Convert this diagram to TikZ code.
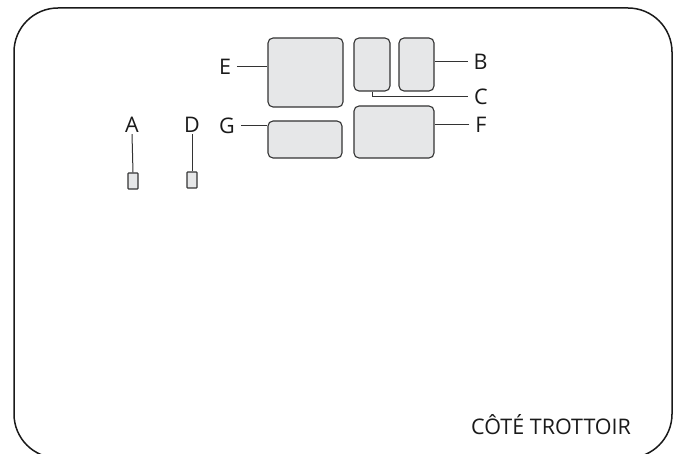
\documentclass[tikz,border=0pt]{standalone}
\usepackage{fontspec}
\setmainfont{Open Sans}
\definecolor{boxfill}{HTML}{E6E7E8}
\definecolor{boxdraw}{HTML}{333333}
\definecolor{inkc}{HTML}{1A1A1A}
\begin{document}
\begin{tikzpicture}[x=1pt,y=-1pt,
  box/.style={draw=boxdraw,fill=boxfill,line width=1.1pt,rounded corners=5pt,inner sep=0pt},
  tiny/.style={box,rounded corners=0.6pt,minimum width=10pt,minimum height=16pt},
  lbl/.style={inner sep=0pt,outer xsep=6pt,outer ysep=2pt,font=\fontsize{21.5}{21.5}\selectfont,text=inkc},
  conn/.style={draw=boxdraw,line width=1pt}]
\useasboundingbox (0,0) rectangle (676,454);
\begin{scope}
\clip (0,0) rectangle (676,454);
\draw[line width=1.5pt,draw=inkc,rounded corners=44pt] (14,8) rectangle (672,458);
\end{scope}
% boxes
\node[box,minimum width=75pt,minimum height=69pt] (E) at (305.5,72.5) {};
\node[box,minimum width=36pt,minimum height=53pt] (C) at (372,64.5) {};
\node[box,minimum width=35pt,minimum height=53pt] (B) at (416.5,64.5) {};
\node[box,minimum width=74pt,minimum height=37pt] (G) at (305,139.5) {};
\node[box,minimum width=80pt,minimum height=52pt] (F) at (394,132) {};
\node[tiny] (a) at (133,181) {};
\node[tiny] (d) at (192,180) {};
% labels
\node[lbl] (lE) at (225,67) {E};
\node[lbl] (lB) at (480.5,62) {B};
\node[lbl] (lC) at (481,97) {C};
\node[lbl] (lF) at (481,124.5) {F};
\node[lbl] (lG) at (227,126) {G};
\node[lbl] (lA) at (132,124.5) {A};
\node[lbl] (lD) at (192,124.5) {D};
\node[lbl,anchor=base east,outer sep=0pt] (title) at (631,434) {CÔTÉ TROTTOIR};
% connectors
\draw[conn] (lE.east) -- (lE.east -| E.west);
\draw[conn] (lG.east) -- (lG.east -| G.west);
\draw[conn] (lB.west) -- (lB.west -| B.east);
\draw[conn] (lF.west) -- (lF.west -| F.east);
\draw[conn] (C.south) |- (lC.west);
\draw[conn] (lA.south) -- (a.north);
\draw[conn] (lD.south) -- (d.north);
\end{tikzpicture}
\end{document}
